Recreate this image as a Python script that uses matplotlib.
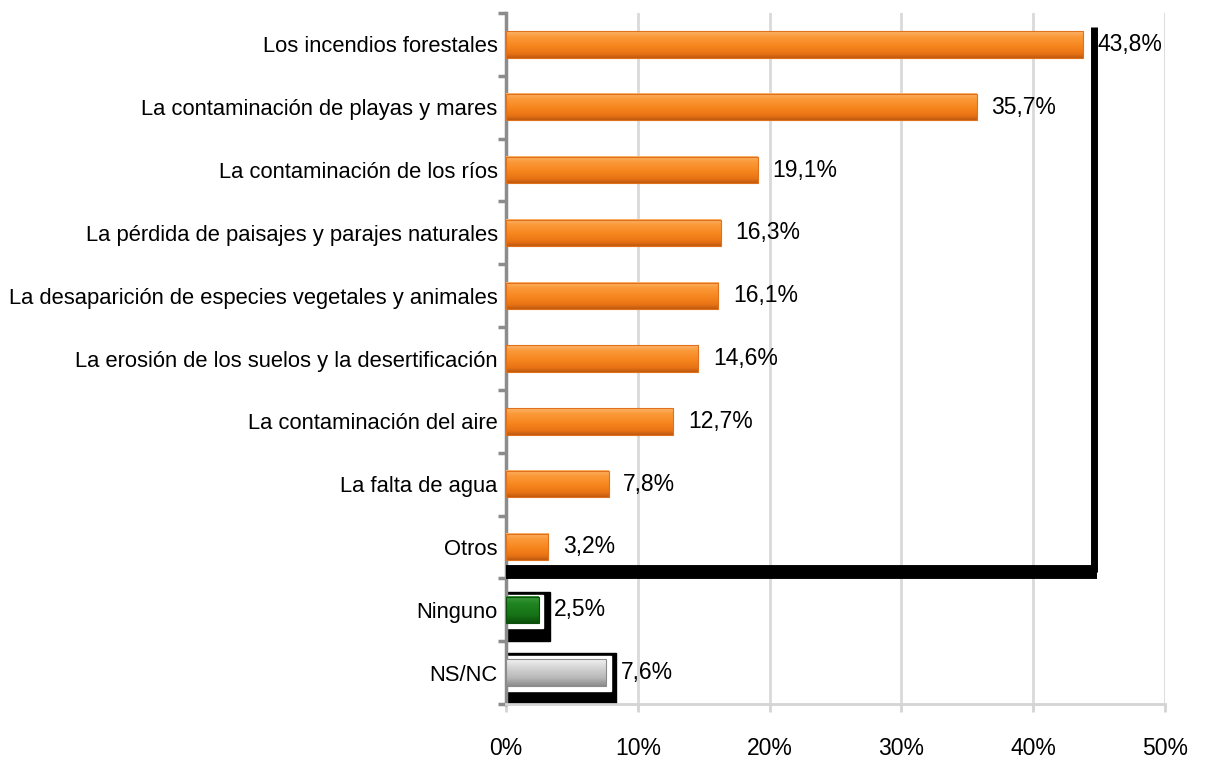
import numpy as np
import matplotlib.pyplot as plt
from matplotlib.colors import LinearSegmentedColormap
from matplotlib.patches import Rectangle

plt.rcParams['font.family'] = ['Liberation Sans', 'DejaVu Sans']

categories = [
    "Los incendios forestales",
    "La contaminación de playas y mares",
    "La contaminación de los ríos",
    "La pérdida de paisajes y parajes naturales",
    "La desaparición de especies vegetales y animales",
    "La erosión de los suelos y la desertificación",
    "La contaminación del aire",
    "La falta de agua",
    "Otros",
    "Ninguno",
    "NS/NC",
]
values = [43.8, 35.7, 19.1, 16.3, 16.1, 14.6, 12.7, 7.8, 3.2, 2.5, 7.6]
groups = ["main"] * 9 + ["none", "nsnc"]
value_labels = ["43,8%", "35,7%", "19,1%", "16,3%", "16,1%", "14,6%",
                "12,7%", "7,8%", "3,2%", "2,5%", "7,6%"]
xticks = [0, 10, 20, 30, 40, 50]
xtick_labels = ["0%", "10%", "20%", "30%", "40%", "50%"]

# gradients for the "3D" bars (top -> bottom)
cmaps = {
    "main": LinearSegmentedColormap.from_list("o", [
        (0.0, "#fcb56c"), (0.2, "#fa9a3a"), (0.55, "#f7861e"),
        (0.85, "#e87214"), (1.0, "#c05a10")]),
    "none": LinearSegmentedColormap.from_list("g", [
        (0.0, "#3e9a3e"), (0.3, "#1f8320"), (0.7, "#167316"),
        (1.0, "#0c4f0c")]),
    "nsnc": LinearSegmentedColormap.from_list("s", [
        (0.0, "#f2f2f2"), (0.3, "#d6d6d6"), (0.7, "#b8b8b8"),
        (1.0, "#8c8c8c")]),
}

fig = plt.figure(figsize=(12.05, 7.58), dpi=100)
ax = fig.add_axes([0.4199, 0.0712, 0.5469, 0.9116])

y = np.arange(len(categories))
h = 0.42
grad = np.linspace(0, 1, 64).reshape(-1, 1)

ax.set_xlim(0, 50)
ax.set_ylim(len(categories) - 0.5, -0.5)

for yi, v, g in zip(y, values, groups):
    if g == "none":
        ax.add_patch(Rectangle((0, yi - 0.29), 3.35, 0.78, color="black", zorder=2))
        ax.add_patch(Rectangle((0, yi - 0.24), 2.8, 0.53, color="white", zorder=2.5))
    elif g == "nsnc":
        ax.add_patch(Rectangle((0, yi - 0.32), 8.35, 0.82, color="black", zorder=2))
        ax.add_patch(Rectangle((0, yi - 0.26), 7.95, 0.56, color="white", zorder=2.5))
    ax.imshow(grad, cmap=cmaps[g], aspect="auto", zorder=3,
              extent=(0, v, yi + h / 2, yi - h / 2), interpolation="bilinear")
    edge = {"main": "#e0701c", "none": "#0c4f0c", "nsnc": "#8c8c8c"}[g]
    ax.add_patch(Rectangle((0, yi - h / 2), v, h, fill=False, ec=edge, lw=0.8, zorder=3.5))

# black frame around the orange group
ax.plot([44.65, 44.65], [-0.27, 8.4], color="black", lw=5, solid_capstyle="butt", zorder=4)
ax.plot([0, 44.85], [8.4, 8.4], color="black", lw=10, solid_capstyle="butt", zorder=4)

for yi, v, lab in zip(y, values, value_labels):
    ax.annotate(lab, (v, yi), xytext=(10.5, 0), textcoords="offset points",
                ha="left", va="center", fontsize=16.5, color="black", zorder=5)

ax.set_xlim(0, 50)
ax.set_ylim(len(categories) - 0.5, -0.5)

ax.set_yticks(y)
ax.set_yticklabels(categories, fontsize=15.8)
ax.set_yticks(np.arange(-0.5, len(categories)), minor=True)
ax.tick_params(axis="y", which="major", length=0, pad=6)
ax.tick_params(axis="y", which="minor", length=6, width=2.5, color="#8c8c8c")

ax.set_xticks(xticks)
ax.set_xticklabels(xtick_labels, fontsize=16.5)
ax.tick_params(axis="x", length=6, width=2, color="#d4d4d4", pad=18)

ax.grid(axis="x", color="#d9d9d9", lw=2)
ax.set_axisbelow(True)
for s in ["top", "right"]:
    ax.spines[s].set_visible(False)
ax.spines["left"].set_color("#8c8c8c")
ax.spines["left"].set_linewidth(2.5)
ax.spines["bottom"].set_color("#d4d4d4")
ax.spines["bottom"].set_linewidth(2)

fig.savefig("out.png", dpi=100)
